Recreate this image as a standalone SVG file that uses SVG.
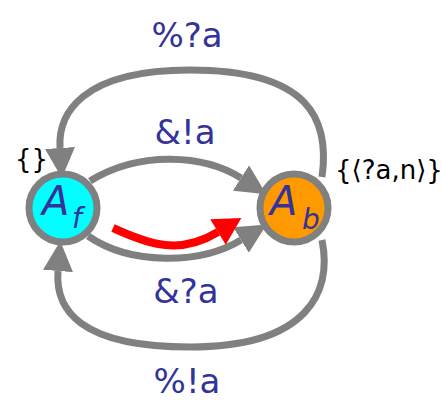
<svg xmlns="http://www.w3.org/2000/svg" width="442" height="403" viewBox="0 0 442 403">
<style>
.e{fill:none;stroke:#808080;stroke-width:7}
.lbl{font-family:"DejaVu Sans",sans-serif;fill:#333399;font-size:34px;text-anchor:middle}
.set{font-family:"DejaVu Sans",sans-serif;fill:#000;font-size:26px}
.node{stroke:#808080;stroke-width:7}
.nm{font-family:"DejaVu Sans",sans-serif;fill:#333399;font-style:italic}
</style>
<defs>
<marker id="ag" markerUnits="userSpaceOnUse" markerWidth="30" markerHeight="30" refX="0" refY="11" orient="auto" viewBox="0 0 22 22"><path d="M0,0 L22,11 L0,22 z" fill="#808080"/></marker>
<marker id="ar" markerUnits="userSpaceOnUse" markerWidth="30" markerHeight="30" refX="0" refY="11" orient="auto" viewBox="0 0 20 22"><path d="M0,0 L20,11 L0,22 z" fill="#ff0000"/></marker>
</defs>
<g id="connectors">
<path class="e" d="M322 177 C330 120 310 70 190 70 C80 70 58 115 60 148" marker-end="url(#ag)"/>
<path class="e" d="M322 240 C332 290 310 347 190 347 C80 347 55 310 58 271" marker-end="url(#ag)"/>
<path class="e" d="M90 181 C140 150 205 155 241 178" marker-end="url(#ag)"/>
<path class="e" d="M88 236 C130 265 200 265 241 240" marker-end="url(#ag)"/>
<path d="M113 228 C150 245 180 255 218 232" fill="none" stroke="#ff0000" stroke-width="8" marker-end="url(#ar)"/>
<text class="lbl" x="187" y="47">%?a</text>
<text class="lbl" x="185" y="144">&amp;!a</text>
<text class="lbl" x="186" y="303">&amp;?a</text>
<text class="lbl" x="187" y="393">%!a</text>
</g>
<g id="Af">
<circle class="node" cx="63" cy="208" r="34" fill="#00ffff"/>
<text class="nm" x="42" y="215" font-size="40">A</text>
<text class="nm" x="72" y="228" font-size="28">f</text>
<text class="set" x="15" y="168">{}</text>
</g>
<g id="Ab">
<circle class="node" cx="294" cy="208" r="34" fill="#ff9900"/>
<text class="nm" x="270" y="215" font-size="40">A</text>
<text class="nm" x="302" y="229" font-size="28">b</text>
<text class="set" x="335" y="179" font-size="21">{⟨?a,n⟩}</text>
</g>
</svg>
